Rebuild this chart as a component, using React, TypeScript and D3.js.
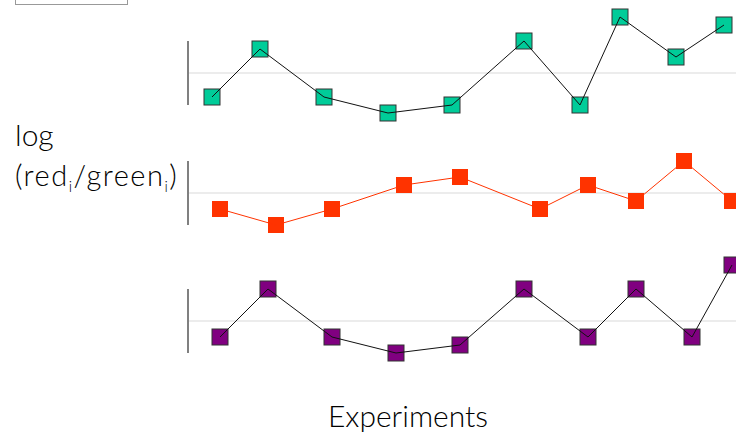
import React from "react";
import * as d3 from "d3";

// x positions of experiments (arbitrary units, 1 unit = one grid step) and log ratios
const greenX = [3, 9, 17, 25, 33, 42, 49, 54, 61, 67];
const greenY = [-3, 3, -3, -5, -4, 4, -4, 7, 2, 6];

const orangeX = [4, 11, 18, 27, 34, 44, 50, 56, 62, 68];
const orangeY = [-2, -4, -2, 1, 2, -2, 1, -1, 4, -1];

const purpleX = [4, 10, 18, 26, 34, 42, 50, 56, 63, 68];
const purpleY = [-2, 4, -2, -4, -3, 4, -2, 4, -2, 7];

const yLabel1 = "log";
const xLabel = "Experiments";

const W = 736;
const H = 438;
const left = 188;

const panels = [
  { xs: greenX, ys: greenY, fill: "#00cc99", stroke: "#333", line: "#111", zero: 73 },
  { xs: orangeX, ys: orangeY, fill: "#ff3300", stroke: "none", line: "#ff3300", zero: 193 },
  { xs: purpleX, ys: purpleY, fill: "#800080", stroke: "#333", line: "#111", zero: 321 },
];

export default function App() {
  const x = d3.scaleLinear().domain([0, 68.5]).range([left, W]);
  const font = "Lato, 'Open Sans', sans-serif";
  const sq = 16;

  return (
    <svg
      width={W}
      height={H}
      style={{ position: "absolute", left: 0, top: 0, background: "#fff" }}
    >
      <rect x={15.5} y={-10} width={112} height={14.5} fill="#fff" stroke="#999" strokeWidth={1} />

      {panels.map((p, i) => {
        const y = d3.scaleLinear().domain([-4, 4]).range([p.zero + 32, p.zero - 32]);
        const pts: [number, number][] = p.xs.map((v, j) => [v, p.ys[j]]);
        const line = d3
          .line<[number, number]>()
          .x(d => x(d[0]))
          .y(d => y(d[1]));
        return (
          <g key={i}>
            <line x1={left} x2={W} y1={y(0)} y2={y(0)} stroke="#d9d9d9" strokeWidth={1} />
            <line x1={left} x2={left} y1={y(4)} y2={y(-4)} stroke="#808080" strokeWidth={2} />
            {pts.map((d, j) => (
              <rect
                key={j}
                x={x(d[0]) - sq / 2}
                y={y(d[1]) - sq / 2}
                width={sq}
                height={sq}
                fill={p.fill}
                stroke={p.stroke}
                strokeWidth={1}
              />
            ))}
            <path d={line(pts) || ""} fill="none" stroke={p.line} strokeWidth={1} />
          </g>
        );
      })}

      <text x={15} y={146} fontFamily={font} fontWeight={300} fontSize={30} fill="#000">
        {yLabel1}
      </text>
      <text
        x={15}
        y={186}
        fontFamily={font}
        fontWeight={300}
        fontSize={29}
        letterSpacing={1.5}
        fill="#000"
      >
        (red
        <tspan fontSize={15} dy={6}>i</tspan>
        <tspan dy={-6}>/green</tspan>
        <tspan fontSize={15} dy={6}>i</tspan>
        <tspan dy={-6}>)</tspan>
      </text>

      <text
        x={408}
        y={427}
        textAnchor="middle"
        fontFamily={font}
        fontWeight={300}
        fontSize={30}
        fill="#000"
      >
        {xLabel}
      </text>
    </svg>
  );
}
